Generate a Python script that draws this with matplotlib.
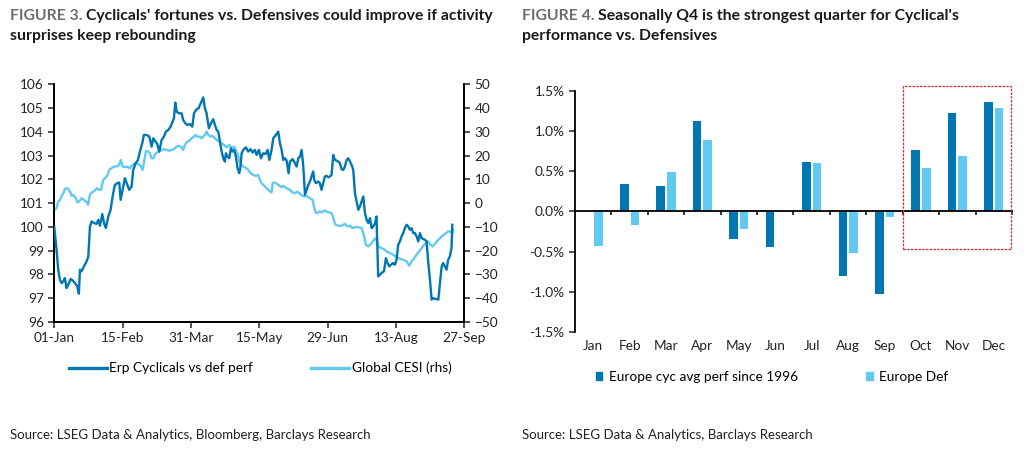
import numpy as np
import matplotlib
matplotlib.use("Agg")
import matplotlib.pyplot as plt
from matplotlib.patches import Rectangle
from matplotlib.lines import Line2D
from matplotlib.patches import Patch
import matplotlib.transforms as mtransforms

plt.rcParams['font.family'] = ['Lato', 'DejaVu Sans']

DARK = '#0077B3'
LIGHT = '#62C9F2'
GREY = '#6E6E6E'

# ---- Figure 3 data (days since 01-Jan-2024) ----
cyc_days = [0, 1.5, 2.6, 3.7, 4.8, 5.9, 7.0, 8.1, 9.2, 10.8, 12.1, 13.6, 15.1, 16.2, 16.9, 18.0,
            19.5, 21.3, 22.4, 23.5, 24.6, 26.3, 27.9, 29.0, 30.1, 31.6, 32.9, 34.0, 35.6, 37.1,
            38.4, 39.9, 41.5, 42.8, 43.7, 45.0, 46.5, 48.1, 49.4, 50.9, 52.0, 53.6, 55.1, 56.4,
            58.2, 59.0, 60.8, 62.6, 64.1, 65.2, 66.7, 67.8, 69.1, 70.7, 72.2, 73.5, 75.1, 76.6,
            77.9, 78.8, 79.7, 80.6, 82.1, 83.8, 84.9, 86.3, 87.6, 89.3, 90.9, 92.0, 93.7, 95.0,
            96.6, 98.1, 99.2, 100.3, 101.8, 103.2, 104.7, 105.8, 106.9, 108.0, 109.1, 110.2,
            111.3, 112.4, 113.0, 114.1, 115.2, 116.3, 117.4, 118.5, 119.6, 120.7, 121.8, 122.5,
            123.4, 124.5, 126.2, 127.7, 129.3, 130.6, 132.1, 133.2, 134.8, 136.1, 137.6, 139.2,
            140.5, 141.6, 143.1, 144.2, 146.0, 147.5, 148.6, 149.7, 150.8, 151.9, 153.0, 154.3,
            155.2, 156.9, 158.5, 159.6, 160.7, 161.8, 162.9, 164.0, 165.1, 166.2, 167.3, 168.4,
            169.4, 170.5, 171.2, 172.3, 173.8, 174.9, 176.0, 177.1, 178.2, 179.3, 180.4, 181.5,
            182.6, 183.7, 184.8, 185.9, 187.0, 188.1, 189.2, 190.3, 191.4, 192.5, 193.6, 194.7,
            195.8, 196.9, 198.0, 199.1, 200.2, 201.3, 202.4, 203.5, 204.6, 205.7, 206.8, 207.9,
            209.0, 210.1, 211.2, 212.2, 213.3, 214.4, 216.0, 217.1, 218.4, 219.5, 220.6, 221.7,
            223.2, 224.3, 225.4, 226.5, 227.6, 228.7, 229.8, 230.9, 232.0, 233.1, 234.2, 235.3,
            236.4, 237.5, 238.6, 239.7, 240.8, 241.9, 243.0, 244.1, 245.2, 246.3, 247.4, 248.5,
            249.6, 250.7, 251.8, 252.9, 254.0, 255.1, 256.1, 257.2, 258.3, 259.4, 260.5, 261.6,
            262.1]
cyc_vals = [100.01, 99.04, 98.20, 97.78, 97.64, 97.71, 97.85, 97.43, 97.57, 97.81, 97.75, 97.64,
            97.50, 97.19, 98.20, 98.13, 98.34, 98.55, 98.76, 100.02, 100.23, 100.16, 100.13,
            100.30, 100.05, 100.54, 100.13, 99.95, 100.44, 100.72, 101.28, 101.77, 101.84,
            101.87, 101.14, 101.56, 102.05, 101.77, 101.56, 101.70, 102.40, 102.68, 102.82,
            103.17, 103.59, 103.87, 103.87, 103.80, 103.38, 103.73, 103.59, 103.49, 103.17,
            103.66, 103.80, 104.01, 104.08, 104.22, 104.43, 104.57, 105.23, 104.85, 104.78,
            104.78, 104.50, 104.36, 104.29, 104.33, 104.22, 104.78, 104.95, 104.99, 105.23,
            105.45, 104.99, 104.78, 104.15, 104.36, 104.53, 104.29, 104.08, 104.01, 103.59,
            103.17, 102.89, 102.75, 103.10, 102.96, 102.89, 103.31, 103.17, 103.24, 102.96,
            102.47, 102.26, 102.47, 103.10, 103.24, 103.35, 103.17, 103.27, 103.13, 103.24,
            103.03, 103.24, 102.89, 103.10, 103.07, 103.24, 102.82, 103.24, 103.73, 103.87,
            104.01, 103.52, 103.24, 102.82, 102.89, 102.79, 102.26, 102.75, 102.85, 102.68,
            102.54, 102.89, 102.96, 103.24, 102.54, 101.35, 101.56, 101.77, 101.91, 102.12,
            102.33, 101.98, 101.84, 101.91, 101.84, 101.56, 101.84, 102.12, 102.15, 102.09,
            102.12, 102.19, 103.03, 102.82, 102.79, 102.75, 102.68, 102.43, 102.40, 102.54,
            102.82, 102.89, 102.75, 102.61, 102.40, 101.42, 101.07, 100.72, 100.86, 101.07,
            101.28, 100.58, 100.30, 100.16, 100.37, 99.95, 100.02, 100.16, 100.44, 97.92,
            97.99, 98.09, 98.13, 98.69, 98.48, 98.34, 98.41, 98.48, 98.41, 98.62, 99.25, 99.39,
            99.60, 99.74, 99.95, 100.09, 100.02, 99.88, 99.95, 99.74, 99.74, 99.60, 99.39,
            99.74, 99.53, 99.49, 99.46, 99.39, 98.48, 97.78, 96.94, 97.01, 96.97, 96.97, 96.94,
            97.64, 98.34, 98.48, 98.34, 98.20, 98.62, 98.76, 99.11, 100.09]

cesi_days = [0.4, 1.5, 2.6, 3.7, 4.8, 5.9, 7.0, 8.1, 9.2, 10.3, 11.4, 12.5, 14.3, 15.4, 16.9, 18.0,
             19.5, 20.9, 22.2, 23.5, 24.6, 26.1, 27.9, 29.4, 30.7, 32.3, 33.4, 34.9, 36.2, 37.8,
             39.3, 41.0, 42.8, 43.9, 45.0, 46.5, 48.1, 49.8, 51.6, 53.1, 54.7, 56.4, 58.2, 59.3,
             60.4, 61.9, 63.0, 64.1, 65.2, 66.3, 67.4, 69.1, 70.7, 72.2, 74.0, 75.7, 77.5, 78.8,
             80.6, 82.3, 83.8, 84.9, 86.0, 87.6, 88.9, 90.4, 92.0, 93.1, 94.2, 95.5, 97.0, 98.1,
             99.2, 100.3, 101.4, 102.9, 104.3, 105.8, 106.9, 108.6, 110.2, 111.7, 113.5, 115.2,
             116.8, 118.3, 120.1, 121.2, 122.3, 124.5, 126.6, 127.7, 129.3, 131.0, 132.8, 134.3,
             135.4, 136.5, 138.7, 140.9, 143.1, 143.8, 145.3, 147.5, 149.7, 150.8, 153.0, 155.2,
             156.9, 158.5, 160.2, 161.8, 163.5, 165.1, 166.6, 168.4, 170.1, 171.0, 172.1, 173.2,
             174.5, 176.0, 177.6, 179.3, 181.1, 182.6, 183.7, 185.2, 187.0, 189.2, 191.4, 192.9,
             194.7, 196.4, 198.0, 200.2, 202.4, 203.5, 205.2, 206.8, 209.0, 210.5, 211.8, 213.3,
             215.5, 217.7, 218.8, 221.0, 223.2, 225.4, 227.6, 229.8, 232.0, 233.8, 235.3, 237.5,
             239.7, 241.9, 244.1, 246.3, 247.8, 249.1, 250.7, 252.9, 255.1, 257.2, 259.4, 260.9,
             262.1, 262.7]
cesi_vals = [-2.8, -2.1, 0.7, 1.4, 2.8, 4.2, 5.9, 6.3, 5.9, 4.9, 3.1, 3.5, 2.1, 0.3, 1.1, 2.1,
             1.4, 0.7, -0.7, 3.5, 4.5, 4.9, 6.3, 5.6, 5.6, 9.8, 10.5, 11.5, 14.0, 14.7, 15.4,
             15.4, 16.1, 18.2, 15.4, 15.1, 15.4, 14.7, 16.1, 16.8, 16.5, 16.1, 14.0, 18.2, 22.0,
             21.7, 21.0, 18.9, 18.9, 20.3, 21.3, 21.7, 22.4, 22.7, 22.4, 22.1, 22.4, 22.7, 23.8,
             24.1, 23.5, 22.4, 24.5, 25.9, 26.2, 27.3, 28.0, 28.7, 28.0, 28.0, 27.3, 28.0, 28.7,
             30.1, 28.7, 28.0, 28.3, 27.3, 26.6, 25.9, 25.2, 24.5, 23.5, 24.5, 23.1, 23.8, 21.7,
             19.6, 16.8, 15.4, 14.7, 14.0, 12.6, 11.9, 11.5, 11.9, 9.8, 8.4, 7.0, 5.6, 4.5, 8.4,
             8.7, 7.7, 6.7, 7.3, 6.3, 5.6, 4.5, 4.2, 4.9, 3.9, 3.1, 2.8, 2.8, 2.1, 1.4, -1.4,
             -3.9, -4.2, -3.5, -3.9, -3.1, -3.5, -3.9, -4.2, -6.3, -9.1, -9.5, -9.5, -8.7, -9.8,
             -9.5, -10.5, -10.1, -10.1, -10.5, -12.6, -17.5, -18.2, -16.8, -15.4, -14.7, -18.2,
             -18.9, -19.6, -20.3, -21.0, -21.7, -22.7, -23.4, -23.8, -24.5, -26.3, -24.5, -22.7,
             -20.7, -18.9, -17.1, -16.1, -17.5, -18.2, -17.1, -15.4, -14.0, -13.0, -11.9, -11.9,
             -12.9, -11.2]

date_ticks = [0, 45, 90, 135, 180, 225, 270]
date_labels = ['01-Jan', '15-Feb', '31-Mar', '15-May', '29-Jun', '13-Aug', '27-Sep']

# ---- Figure 4 data ----
months = ['Jan', 'Feb', 'Mar', 'Apr', 'May', 'Jun', 'Jul', 'Aug', 'Sep', 'Oct', 'Nov', 'Dec']
cyc_perf = [0.0, 0.34, 0.32, 1.13, -0.34, -0.44, 0.61, -0.80, -1.03, 0.76, 1.22, 1.36]
def_perf = [-0.43, -0.17, 0.485, 0.89, -0.215, 0.0, 0.60, -0.52, -0.066, 0.54, 0.69, 1.285]

fig = plt.figure(figsize=(10.24, 4.54), dpi=100)

# ---------------- Left chart ----------------
ax1 = fig.add_axes([0.053, 0.2907, 0.4004, 0.5236])
ax1.plot(cyc_days, cyc_vals, color=DARK, lw=1.7, zorder=3)
ax1.set_xlim(0, 270)
ax1.set_ylim(96, 106)
ax1.set_yticks(range(96, 107))
ax1.set_xticks(date_ticks)
ax1.set_xticklabels(date_labels)
ax1.spines['top'].set_visible(False)
for s in ['left', 'bottom', 'right']:
    ax1.spines[s].set_linewidth(1.3)
ax1.tick_params(labelsize=9.8, length=4, width=1.1, colors='#222222')

ax1r = ax1.twinx()
ax1r.plot(cesi_days, cesi_vals, color=LIGHT, lw=1.7, zorder=2)
ax1r.set_ylim(-50, 50)
ax1r.set_yticks(range(-50, 51, 10))
ax1r.spines['top'].set_visible(False)
for s in ['left', 'bottom', 'right']:
    ax1r.spines[s].set_linewidth(1.3)
ax1r.tick_params(labelsize=9.8, length=4, width=1.1, colors='#222222')
ax1.set_zorder(ax1r.get_zorder() + 1)
ax1.patch.set_visible(False)

handles = [Line2D([], [], color=DARK, lw=2.4), Line2D([], [], color=LIGHT, lw=2.4)]
fig.legend(handles, ['Erp Cyclicals vs def perf', 'Global CESI (rhs)'],
           loc='center', bbox_to_anchor=(0.254, 0.189), ncol=2, frameon=False,
           fontsize=9.8, handlelength=2.8, handletextpad=0.2, columnspacing=4.25)

# ---------------- Right chart ----------------
ax2 = fig.add_axes([0.5615, 0.2687, 0.4268, 0.5313])
x = np.arange(len(months))
ax2.bar(x - 0.145, cyc_perf, width=0.235, color=DARK, zorder=2)
ax2.bar(x + 0.145, def_perf, width=0.235, color=LIGHT, zorder=2)
ax2.set_xlim(-0.5, 11.5)
ax2.set_ylim(-1.5, 1.5)
ax2.set_yticks([-1.5, -1.0, -0.5, 0.0, 0.5, 1.0, 1.5])
ax2.set_yticklabels([f'{v:.1f}%' for v in [-1.5, -1.0, -0.5, 0.0, 0.5, 1.0, 1.5]])
ax2.spines['top'].set_visible(False)
ax2.spines['right'].set_visible(False)
ax2.spines['bottom'].set_position(('data', 0))
ax2.spines['left'].set_linewidth(1.3)
ax2.spines['bottom'].set_linewidth(1.3)
ax2.set_xticks(np.arange(0.5, 11.6, 1))
ax2.set_xticklabels([])
ax2.tick_params(axis='x', length=3, width=1.1)
ax2.tick_params(axis='y', labelsize=9.8, length=4, width=1.1, colors='#222222')
trans = mtransforms.blended_transform_factory(ax2.transData, ax2.transAxes)
for i, m in enumerate(months):
    ax2.text(i, -0.035, m, transform=trans, ha='center', va='top', fontsize=9.8, color='#222222')

ax2.add_patch(Rectangle((8.52, -0.472), 2.95, 2.03, fill=False, edgecolor='#E8232A',
                        linestyle=(0, (2, 1)), lw=0.9, clip_on=False, zorder=4))

bh = [Patch(color=DARK), Patch(color=LIGHT)]
fig.legend(bh, ['Europe cyc avg perf since 1996', 'Europe Def'],
           loc='center', bbox_to_anchor=(0.754, 0.17), ncol=2, frameon=False,
           fontsize=9.8, handlelength=0.5, handleheight=0.5, handletextpad=0.5,
           columnspacing=4.95)

# ---------------- Titles and sources ----------------
def title(x0, y0, lines_prefix, rest_lines):
    renderer = fig.canvas.get_renderer()
    t = fig.text(x0, y0, lines_prefix, color=GREY, fontsize=11.3, fontweight='bold', va='baseline')
    bb = t.get_window_extent(renderer=renderer)
    x1 = (bb.x1 + 4) / fig.bbox.width
    fig.text(x1, y0, rest_lines[0], color='#1A1A1A', fontsize=11.3, fontweight='bold', va='baseline')
    fig.text(x0, y0 - 20 / 454, rest_lines[1], color='#1A1A1A', fontsize=11.3, fontweight='bold',
             va='baseline')

title(10 / 1024, 1 - 20 / 454, 'FIGURE 3.',
      ["Cyclicals' fortunes vs. Defensives could improve if activity", 'surprises keep rebounding'])
title(522 / 1024, 1 - 20 / 454, 'FIGURE 4.',
      ["Seasonally Q4 is the strongest quarter for Cyclical's", 'performance vs. Defensives'])

fig.text(10 / 1024, 1 - 435 / 454, 'Source: LSEG Data & Analytics, Bloomberg, Barclays Research',
         fontsize=9.5, color='#222222', va='center')
fig.text(522 / 1024, 1 - 435 / 454, 'Source: LSEG Data & Analytics, Barclays Research',
         fontsize=9.5, color='#222222', va='center')

fig.savefig('out.png', dpi=100)
